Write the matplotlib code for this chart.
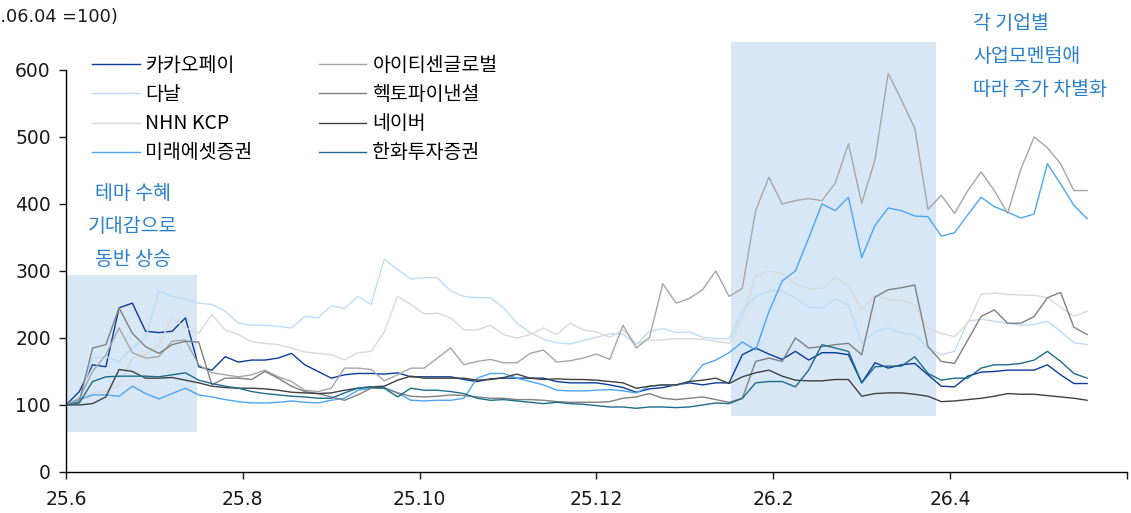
import numpy as np
import matplotlib
matplotlib.use("Agg")
import matplotlib.pyplot as plt
from matplotlib.patches import Rectangle

plt.rcParams['font.family'] = ['Noto Sans CJK KR', 'DejaVu Sans']

names = ['카카오페이', '다날', 'NHN KCP', '미래에셋증권',
         '아이티센글로벌', '헥토파이낸셜', '네이버', '한화투자증권']
colors = ['#0b3c98', '#bddcfa', '#d9d9d9', '#4ea6f3',
          '#a6a6a6', '#808080', '#404040', '#1d6c8c']

kakaopay = [100,120,160,157,245,252,210,208,210,230,
            157,152,172,164,167,167,170,177,160,150,
            140,145,147,147,146,148,142,142,142,142,
            138,135,139,140,140,140,140,135,133,133,
            133,130,126,119,124,126,130,133,130,133,
            133,175,185,176,168,180,167,178,178,175,
            133,163,155,160,162,145,128,127,143,149,
            150,152,152,152,160,145,132,132]
danal = [100,108,170,172,165,185,200,270,262,258,
         252,250,240,222,219,219,217,215,232,230,
         248,244,262,250,318,302,288,290,290,270,
         262,260,260,245,222,208,198,193,191,196,
         201,206,206,190,210,214,208,209,201,199,
         199,240,262,270,270,260,246,245,258,249,
         192,210,215,207,205,185,175,180,225,228,
         225,222,219,220,225,210,193,190]
nhnkcp = [100,110,118,120,130,170,175,190,230,215,
          207,235,212,205,194,192,190,185,179,177,
          175,167,178,180,209,262,250,236,237,230,
          212,212,219,205,200,205,215,205,222,212,
          209,201,212,192,197,197,199,199,198,195,
          192,230,292,300,296,280,273,274,290,278,
          242,264,257,256,250,214,207,202,222,265,
          267,265,264,264,260,246,232,240]
mirae = [100,108,115,115,113,128,117,109,117,125,
         115,112,108,105,103,103,104,106,104,103,
         107,110,122,125,126,118,107,106,107,107,
         110,140,147,147,140,135,130,122,121,121,
         122,123,121,118,128,130,129,135,160,167,
         178,194,182,239,285,300,349,400,390,410,
         320,368,394,390,382,381,352,357,384,410,
         396,388,379,385,460,430,398,378]
itcen = [100,110,150,175,215,178,170,172,195,197,
         160,148,145,142,145,152,142,135,122,120,
         125,155,155,153,136,145,155,155,170,185,
         160,165,168,163,163,177,182,164,166,170,
         176,168,219,185,201,281,252,259,272,300,
         262,274,390,440,400,405,408,405,431,490,
         401,466,595,555,513,392,413,386,420,448,
         420,386,452,500,484,460,420,420]
hecto = [100,105,185,190,245,207,187,177,190,195,
         194,130,140,140,138,150,140,128,120,117,
         112,107,115,125,125,118,113,112,113,115,
         114,112,110,110,108,108,107,105,104,104,
         104,105,110,112,117,110,108,110,112,108,
         104,110,165,170,165,200,185,187,190,192,
         175,261,272,275,279,187,165,162,197,232,
         242,222,222,232,260,268,216,205]
naver = [100,100,102,112,153,150,140,140,141,137,
         133,128,126,125,125,124,122,119,118,117,
         118,122,125,127,128,137,143,140,140,140,
         140,137,138,141,146,140,138,139,138,138,
         137,135,133,125,128,130,130,135,137,140,
         132,142,148,152,143,137,136,136,138,138,
         113,117,118,118,116,113,105,106,108,110,
         113,117,116,116,114,112,110,107]
hanwha = [100,103,135,142,143,143,143,142,145,148,
          137,132,128,125,120,117,115,113,112,110,
          110,118,125,127,125,112,125,122,122,120,
          117,110,107,108,106,104,102,104,102,101,
          99,97,97,95,97,97,96,97,100,103,
          102,110,133,135,135,127,152,190,185,180,
          133,157,158,158,172,147,137,140,140,155,
          160,160,162,167,180,165,147,140]

series = [kakaopay, danal, nhnkcp, mirae, itcen, hecto, naver, hanwha]
tick_labels = ['25.6', '25.8', '25.10', '25.12', '26.2', '26.4', '']

fig = plt.figure(figsize=(11.31, 5.13), dpi=100)
ax = fig.add_axes([0.0584, 0.080, 0.938, 0.7836])

shade = '#d7e7f5'
ax.add_patch(Rectangle((0, 60), 29.6, 234, facecolor=shade, edgecolor='none',
                       zorder=0, clip_on=False))
ax.add_patch(Rectangle((150.5, 84), 46.3, 558, facecolor=shade, edgecolor='none',
                       zorder=0, clip_on=False))

x = np.arange(len(kakaopay)) * 3
for name, col, vals in zip(names, colors, series):
    ax.plot(x, vals, color=col, lw=1.0, label=name, zorder=2)

ax.set_xlim(0, 240)
ax.set_ylim(0, 600)
ax.set_xticks(np.arange(0, 241, 40))
ax.set_xticklabels(tick_labels)
ax.set_yticks(np.arange(0, 601, 100))
for s in ['top', 'right']:
    ax.spines[s].set_visible(False)
for s in ['left', 'bottom']:
    ax.spines[s].set_linewidth(1.0)
    ax.spines[s].set_color('#000000')
ax.tick_params(axis='both', labelsize=13.5, length=5, width=1.0, colors='#1a1a1a')
ax.tick_params(axis='y', pad=6)
ax.tick_params(axis='x', pad=8)
for lab in ax.get_xticklabels() + ax.get_yticklabels():
    lab.set_fontfamily(['DejaVu Sans'])

ann = '#2a80cc'
ax.text(15.1, 367, '테마 수혜\n기대감으로\n동반 상승', ha='center', va='center',
        fontsize=14, color=ann, linespacing=1.75, zorder=3)
ax.text(205.2, 620, '각 기업별\n사업모멘텀애\n따라 주가 차별화', ha='left', va='center',
        fontsize=14, color=ann, linespacing=1.75, zorder=3, clip_on=False)

fig.text(118 / 1131, 1 - 17 / 513, '(25.06.04 =100)', ha='right', va='center',
         fontsize=12.8, color='#1a1a1a', family=['DejaVu Sans'])

leg = ax.legend(ncol=2, loc='upper left', bbox_to_anchor=(92 / 1131, 1 - 55 / 513),
                bbox_transform=fig.transFigure, frameon=False, fontsize=14,
                handlelength=2.45, handletextpad=0.3, columnspacing=3.4,
                labelspacing=0.42, borderpad=0, borderaxespad=0)

fig.savefig('out.png', dpi=100)
